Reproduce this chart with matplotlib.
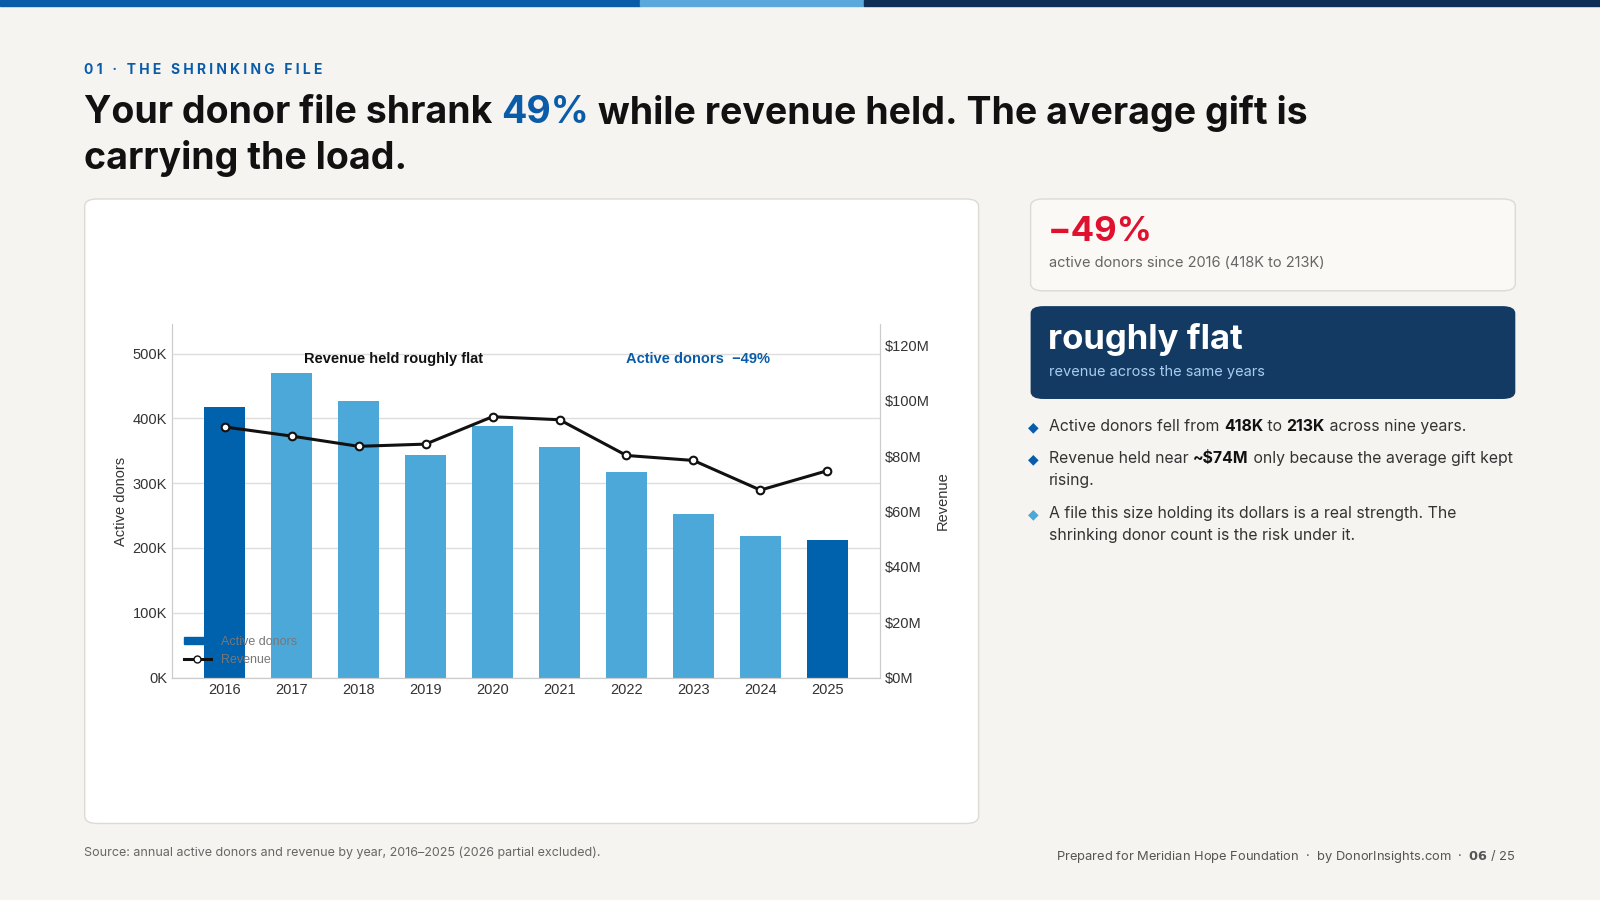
import matplotlib
matplotlib.use("Agg")
import matplotlib.pyplot as plt
from matplotlib.patches import FancyBboxPatch, Rectangle
from matplotlib.lines import Line2D
from matplotlib.ticker import FuncFormatter

years = ["2016", "2017", "2018", "2019", "2020", "2021", "2022", "2023", "2024", "2025"]
donors_k = [418, 470, 427, 344, 389, 356, 318, 252, 219, 213]
revenue_m = [90.5, 87.2, 83.5, 84.3, 94.2, 93.1, 80.2, 78.4, 67.7, 74.7]
highlight = ["2016", "2025"]

W, H = 1568, 882
fig = plt.figure(figsize=(16, 9), dpi=100)
fig.patch.set_facecolor("#f6f4f0")
SANS = ["Inter", "DejaVu Sans"]
CH = ["Liberation Sans", "DejaVu Sans"]

def fx(x): return x / W
def fy(y): return 1 - y / H

# top bar
fig.add_artist(Rectangle((0, fy(6)), fx(627), 6 / H, color="#0a5ca8", transform=fig.transFigure))
fig.add_artist(Rectangle((fx(627), fy(6)), fx(220), 6 / H, color="#5aa8dc", transform=fig.transFigure))
fig.add_artist(Rectangle((fx(847), fy(6)), 1 - fx(847), 6 / H, color="#0f2e55", transform=fig.transFigure))

fig.text(fx(82), fy(69), "0 1   ·   T H E   S H R I N K I N G   F I L E", color="#0a5ca8", fontsize=10,
         fontweight="bold", family=SANS, va="center")

def runs(x, y, parts, size, va="center"):
    r = fig.canvas.get_renderer()
    cur = x
    for txt, col, wt in parts:
        t = fig.text(cur, y, txt, color=col, fontsize=size, fontweight=wt, family=SANS, va=va)
        bb = t.get_window_extent(renderer=r)
        cur += bb.width / fig.bbox.width
    return cur

runs(fx(82), fy(111), [("Your donor file shrank ", "#111111", "bold"), ("49%", "#0a5ca8", "bold"),
                        (" while revenue held. The average gift is", "#111111", "bold")], 27)
fig.text(fx(82), fy(155), "carrying the load.", color="#111111", fontsize=27, fontweight="bold", family=SANS, va="center")

# chart card
card = FancyBboxPatch((fx(83), fy(807)), fx(876), (807 - 195) / H, boxstyle="round,pad=0,rounding_size=0.008",
                      facecolor="white", edgecolor="#dedad3", lw=1, transform=fig.transFigure, zorder=-5)
fig.add_artist(card)

ax = fig.add_axes([fx(169), fy(664), fx(693), 346 / H])
ax.set_zorder(2)
ax.set_facecolor("white")
xs = range(len(years))
cols = ["#0062ad" if y in highlight else "#4da8da" for y in years]
ax.bar(xs, donors_k, width=0.62, color=cols, zorder=2, label="Active donors")
ax.set_ylim(0, 545)
ax.set_xlim(-0.78, 9.78)
ax.set_yticks([0, 100, 200, 300, 400, 500])
ax.yaxis.set_major_formatter(FuncFormatter(lambda v, p: f"{int(v)}K"))
ax.set_xticks(list(xs))
ax.set_xticklabels(years)
ax.grid(axis="y", color="#dddddd", lw=1, zorder=0)
ax.spines["top"].set_visible(False)
for s in ["left", "right", "bottom"]:
    ax.spines[s].set_color("#cccccc")
ax.tick_params(length=0, labelsize=10.5, colors="#333333", pad=4)
for lab in ax.get_xticklabels() + ax.get_yticklabels():
    lab.set_family(CH)
ax.set_ylabel("Active donors", family=CH, fontsize=10.5, color="#333333", labelpad=3)

ax2 = ax.twinx()
ax2.plot(list(xs), revenue_m, color="#111111", lw=2.2, marker="o", markersize=5.5,
         markerfacecolor="white", markeredgecolor="#111111", markeredgewidth=1.5, zorder=5, label="Revenue")
ax2.set_ylim(0, 127.5)
ax2.set_yticks([0, 20, 40, 60, 80, 100, 120])
ax2.yaxis.set_major_formatter(FuncFormatter(lambda v, p: f"${int(v)}M"))
ax2.tick_params(length=0, labelsize=10.5, colors="#333333", pad=4)
for lab in ax2.get_yticklabels():
    lab.set_family(CH)
ax2.spines["top"].set_visible(False)
for s in ["left", "right", "bottom"]:
    ax2.spines[s].set_color("#cccccc")
ax2.set_ylabel("Revenue", family=CH, fontsize=10.5, color="#333333", labelpad=4)

ax2.text(0.312, 0.902, "Revenue held roughly flat", transform=ax2.transAxes, ha="center", va="center",
         fontsize=10.5, fontweight="bold", family=CH, color="#111111")
ax2.text(0.743, 0.902, "Active donors  \u221249%", transform=ax2.transAxes, ha="center", va="center",
         fontsize=10.5, fontweight="bold", family=CH, color="#0a5ca8")

handles = [Rectangle((0, 0), 1, 1, color="#0062ad"),
           Line2D([], [], color="#111111", lw=2.2, marker="o", markersize=5, markerfacecolor="white")]
leg = ax2.legend(handles, ["Active donors", "Revenue"], loc="lower left", frameon=False,
                 prop={"family": CH, "size": 9}, bbox_to_anchor=(0.0, 0.0), handlelength=2.2, handleheight=0.5)
for t in leg.get_texts():
    t.set_color("#777777")

# right cards
fig.add_artist(FancyBboxPatch((fx(1010), fy(285)), fx(475), 90 / H, boxstyle="round,pad=0,rounding_size=0.008",
                              facecolor="#faf9f6", edgecolor="#dedad3", lw=1, transform=fig.transFigure))
fig.text(fx(1027), fy(227), "\u221249%", color="#e0102f", fontsize=25, fontweight="bold", family=SANS, va="center")
fig.text(fx(1028), fy(258), "active donors since 2016 (418K to 213K)", color="#666666", fontsize=10.5, family=SANS, va="center")

fig.add_artist(FancyBboxPatch((fx(1010), fy(391)), fx(475), 91 / H, boxstyle="round,pad=0,rounding_size=0.008",
                              facecolor="#123a63", edgecolor="none", transform=fig.transFigure))
fig.text(fx(1027), fy(333), "roughly flat", color="white", fontsize=25, fontweight="bold", family=SANS, va="center")
fig.text(fx(1028), fy(365), "revenue across the same years", color="#a8cdf0", fontsize=10.5, family=SANS, va="center")

def bullet(y, col):
    fig.text(fx(1013), fy(y), "\u25C6", color=col, fontsize=10, family=["DejaVu Sans"], ha="center", va="center")

B, N = "bold", "normal"
dk, tx = "#111111", "#333333"
bullet(419, "#0a5ca8")
runs(fx(1028), fy(418), [("Active donors fell from ", tx, N), ("418K", dk, B), (" to ", tx, N), ("213K", dk, B),
                          (" across nine years.", tx, N)], 11.4)
bullet(450, "#0a5ca8")
runs(fx(1028), fy(449), [("Revenue held near ", tx, N), ("~$74M", dk, B), (" only because the average gift kept", tx, N)], 11.4)
fig.text(fx(1028), fy(471), "rising.", color=tx, fontsize=11.4, family=SANS, va="center")
bullet(504, "#4da8da")
fig.text(fx(1028), fy(503), "A file this size holding its dollars is a real strength. The", color=tx, fontsize=11.4, family=SANS, va="center")
fig.text(fx(1028), fy(525), "shrinking donor count is the risk under it.", color=tx, fontsize=11.4, family=SANS, va="center")

fig.text(fx(82), fy(836), "Source: annual active donors and revenue by year, 2016\u20132025 (2026 partial excluded).",
         color="#666666", fontsize=9, family=SANS, va="center")
fig.text(fx(1485), fy(839), "Prepared for Meridian Hope Foundation  \u00b7  by DonorInsights.com  \u00b7  $\\bf{06}$ / 25",
         color="#555555", fontsize=9.3, family=SANS, va="center", ha="right")

fig.savefig("out.png", dpi=100, facecolor=fig.get_facecolor())
